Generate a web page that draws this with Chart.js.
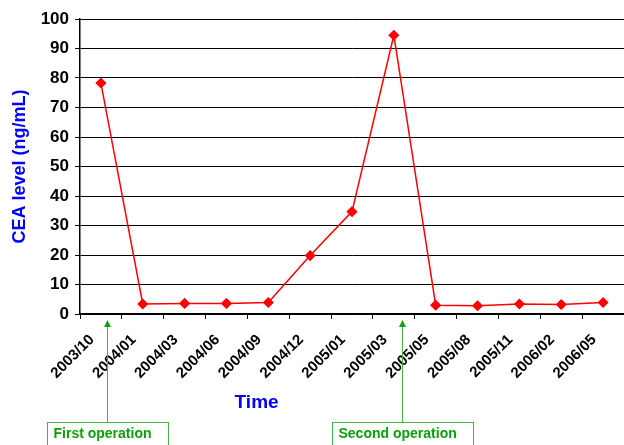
<!DOCTYPE html>
<html>
<head>
<meta charset="utf-8">
<script src="https://cdn.jsdelivr.net/npm/chart.js@4/dist/chart.umd.min.js"></script>
<style>
	html, body { margin: 0; padding: 0; background: #fff; overflow: hidden; }
	#wrap { width: 630px; height: 445px; }
</style>
</head>
<body>
<div id="wrap"><canvas id="myChart" width="630" height="445"></canvas></div>
<script>
// 측정 시점 (x축 라벨)
const months = ["2003/10", "2004/01", "2004/03", "2004/06", "2004/09", "2004/12", "2005/01",
	"2005/03", "2005/05", "2005/08", "2005/11", "2006/02", "2006/05"];
// CEA 수치
const ceaValues = [78.3, 3.4, 3.6, 3.6, 3.9, 19.8, 34.7, 94.5, 3.0, 2.8, 3.4, 3.2, 3.9];
// y축 눈금
const yTicks = [0, 10, 20, 30, 40, 50, 60, 70, 80, 90, 100];
// 수술 시점 (카테고리 위치) 과 라벨
const opAt = [0.15, 7.2];
const opLabels = ["First operation", "Second operation"];

const FONT = "'Liberation Sans', Arial, sans-serif";
const GREEN_TEXT = "rgb(10,160,10)";
const GREEN_LINE = "rgb(70,180,70)";

// 수술 화살표 + 박스, x축 제목
const opPlugin = {
	id: "operations",
	afterDraw(chart) {
		const ctx = chart.ctx;
		const x = chart.scales.x;
		const step = x.getPixelForValue(1) - x.getPixelForValue(0);
		ctx.save();
		// x축 제목 (축 가운데가 아니라 왼쪽으로 치우쳐 있음)
		ctx.font = "bold 19px " + FONT;
		ctx.fillStyle = "rgb(0,0,255)";
		ctx.textAlign = "center";
		ctx.textBaseline = "middle";
		ctx.fillText("Time", x.getPixelForValue(3.72), 403);

		ctx.textAlign = "left";
		ctx.font = "bold 14px " + FONT;
		for (let i = 0; i < opAt.length; i++) {
			const px = Math.round(x.getPixelForValue(0) + opAt[i] * step) + 0.5;
			const tipY = chart.chartArea.bottom + 6;
			const boxTop = 422.5;
			// 선
			ctx.strokeStyle = GREEN_LINE;
			ctx.lineWidth = 1;
			ctx.beginPath();
			ctx.moveTo(px, boxTop);
			ctx.lineTo(px, tipY + 5);
			ctx.stroke();
			// 화살촉
			ctx.fillStyle = "rgb(20,160,20)";
			ctx.beginPath();
			ctx.moveTo(px, tipY);
			ctx.lineTo(px - 3.5, tipY + 7);
			ctx.lineTo(px + 3.5, tipY + 7);
			ctx.closePath();
			ctx.fill();
			// 박스
			const tw = ctx.measureText(opLabels[i]).width;
			const bw = Math.round(tw + 23);
			const left = Math.round(px - bw / 2) + 0.5;
			ctx.strokeStyle = GREEN_LINE;
			ctx.strokeRect(left, boxTop, bw, 30);
			ctx.fillStyle = GREEN_TEXT;
			ctx.textBaseline = "alphabetic";
			ctx.fillText(opLabels[i], left + 6, boxTop + 15);
		}
		ctx.restore();
	}
};

const ctx = document.getElementById("myChart").getContext("2d");
const myChart = new Chart(ctx, {
	type: "line",
	data: {
		labels: months,
		datasets: [{
			label: "CEA",
			data: ceaValues,
			borderColor: "rgb(255,0,0)",
			backgroundColor: "rgb(255,0,0)",
			borderWidth: 1.5,
			pointStyle: "rectRot",
			pointRadius: 4.5,
			pointHoverRadius: 4.5,
			tension: 0
		}]
	},
	options: {
		responsive: false,
		animation: false,
		layout: { padding: { top: 19, right: 4, bottom: 27, left: 0 } },
		plugins: {
			legend: { display: false },
			tooltip: { enabled: false }
		},
		scales: {
			x: {
				offset: true,
				grid: {
					offset: true,
					drawOnChartArea: false,
					color: "#000",
					tickLength: 5
				},
				border: { color: "#000", width: 1.5 },
				ticks: {
					color: "#000",
					font: { family: FONT, size: 15, weight: "bold" },
					minRotation: 45,
					maxRotation: 45,
					autoSkip: false,
					padding: 12,
					labelOffset: -9
				},
				afterFit(scale) { scale.height = 104; }
			},
			y: {
				min: yTicks[0],
				max: yTicks[yTicks.length - 1],
				afterBuildTicks(scale) { scale.ticks = yTicks.map(v => ({ value: v })); },
				grid: { color: "#000", tickLength: 5 },
				border: { color: "#000", width: 1.5 },
				ticks: {
					color: "#000",
					font: { family: FONT, size: 17, weight: "bold" },
					padding: 6
				},
				title: {
					display: true,
					text: "CEA level (ng/mL)",
					color: "rgb(0,0,255)",
					font: { family: FONT, size: 18, weight: "bold" },
					padding: { top: 9, bottom: 0 }
				},
				afterFit(scale) { scale.width = 80; }
			}
		}
	},
	plugins: [opPlugin]
});
</script>
</body>
</html>
